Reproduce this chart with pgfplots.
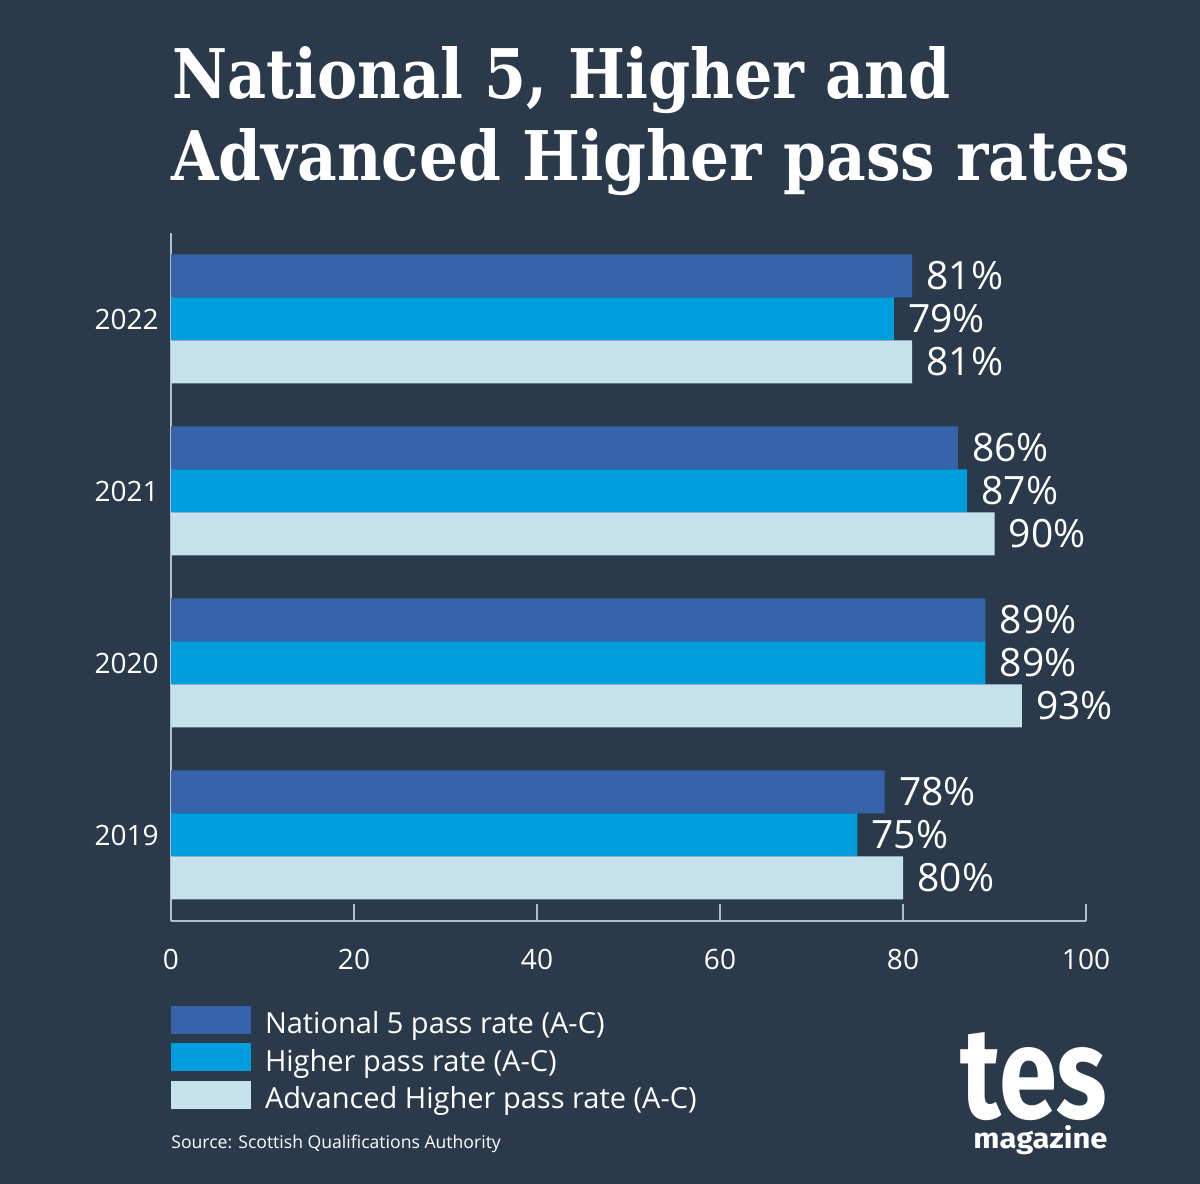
\documentclass[border=0pt]{standalone}
\usepackage{pgfplots}
\pgfplotsset{compat=1.18}
\usepackage{fontspec}
\setmainfont{Open Sans}
\newfontfamily\titlefont{DejaVu Serif}
\newfontfamily\logofont{Fira Sans}
\definecolor{bg}{HTML}{2B3A4B}
\definecolor{nfive}{HTML}{3562A8}
\definecolor{higher}{HTML}{019EDE}
\definecolor{adv}{HTML}{C5E1EB}
\definecolor{axisgray}{HTML}{B4BCC8}
\begin{document}
\begin{tikzpicture}
\useasboundingbox (0,0) rectangle (600bp,592bp);
\fill[bg] (0,0) rectangle (600bp,592bp);
\node[anchor=base west, inner sep=0pt, text=white] at (86bp,542.5bp) {\resizebox{389bp}{26bp}{\titlefont\bfseries National 5, Higher and}};
\node[anchor=base west, inner sep=0pt, text=white] at (85.5bp,501.5bp) {\resizebox{479.5bp}{26bp}{\titlefont\bfseries Advanced Higher pass rates}};
\begin{axis}[
  at={(85.5bp,131.5bp)}, anchor=south west, scale only axis,
  width=457.5bp, height=344bp,
  xmin=0, xmax=100, ymin=-0.5, ymax=3.5,
  xbar, bar width=0.25, bar shift=0pt,
  axis x line=bottom, axis y line=left,
  axis line style={-, draw=axisgray, line width=1bp},
  xtick={0,20,40,60,80,100}, xtick align=inside, major tick length=8.5bp,
  xtick style={draw=axisgray, line width=0.75bp},
  ytick={0,1,2,3}, yticklabels={2019,2020,2021,2022}, ytick style={draw=none},
  ytick align=inside,
  tick label style={text=white, font=\fontsize{14bp}{17bp}\selectfont},
  xticklabel style={yshift=-10.5bp},
  yticklabel style={xshift=-2.7bp},
  /pgf/number format/assume math mode=true,
  nodes near coords={\pgfmathprintnumber[assume math mode=true]{\pgfplotspointmeta}\%},
  nodes near coords style={text=white, font=\fontsize{19.5bp}{22bp}\selectfont, anchor=west, inner sep=0pt, xshift=7bp},
  legend cell align=left,
  legend style={at={(0,-0.1235)}, anchor=north west, draw=none, fill=none,
    inner sep=0pt, outer sep=0pt, row sep=4.75bp, column sep=7bp,
    font=\fontsize{14.5bp}{17bp}\selectfont, text=white,
    nodes={inner sep=0pt, text height=14bp, text depth=0bp}},
]
\addplot[fill=nfive, draw=none, legend image code/.code={\fill[nfive] (0bp,-7bp) rectangle (40bp,7bp);}]
  coordinates {(81,3.25) (86,2.25) (89,1.25) (78,0.25)};
\addplot[fill=higher, draw=none, legend image code/.code={\fill[higher] (0bp,-7bp) rectangle (40bp,7bp);}]
  coordinates {(79,3) (87,2) (89,1) (75,0)};
\addplot[fill=adv, draw=none, legend image code/.code={\fill[adv] (0bp,-7bp) rectangle (40bp,7bp);}]
  coordinates {(81,2.75) (90,1.75) (93,0.75) (80,-0.25)};
\legend{National 5 pass rate (A-C), Higher pass rate (A-C), Advanced Higher pass rate (A-C)}
\end{axis}
\node[anchor=base west, inner sep=0pt, text=white] at (85.5bp,18bp) {\fontsize{8.8bp}{11bp}\selectfont Source: Scottish Qualifications Authority};
\node[anchor=base west, inner sep=0pt, text=white] at (480bp,32.5bp) {\resizebox{73.5bp}{43bp}{\logofont\bfseries tes}\llap{\raisebox{-15bp}[0pt][0pt]{\resizebox{67bp}{11.5bp}{\logofont\bfseries magazine}}}};
\end{tikzpicture}
\end{document}
